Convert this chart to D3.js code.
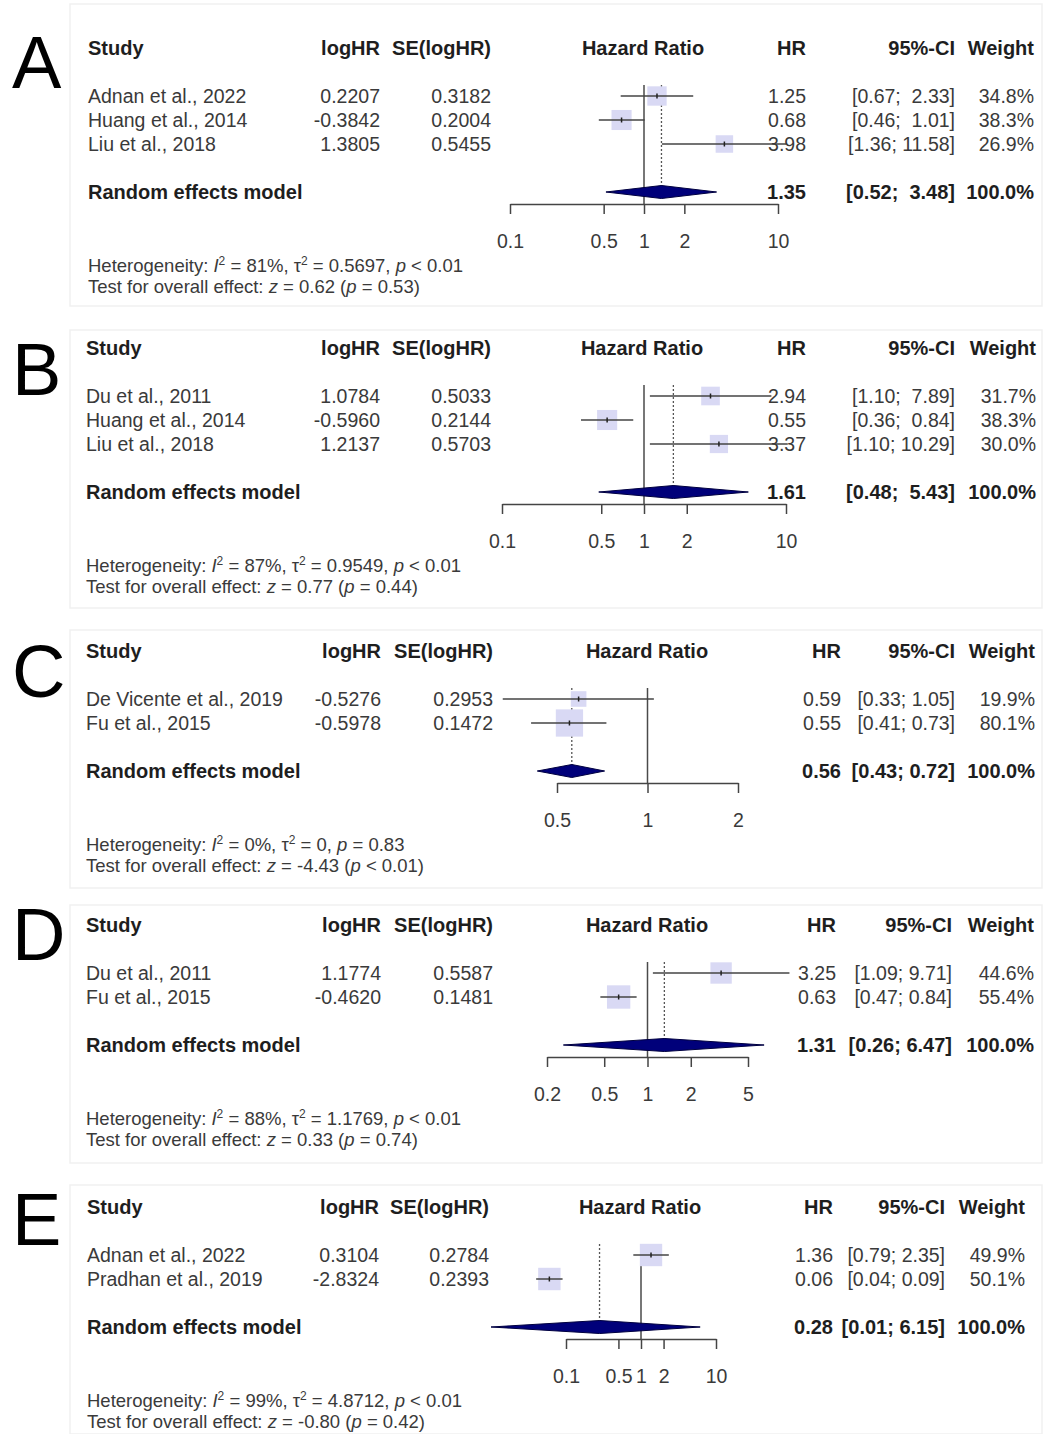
<!DOCTYPE html>
<html lang="en">
<head>
  <meta charset="UTF-8">
  <title>Forest plots A-E</title>
  <script src="https://d3js.org/d3.v7.min.js"></script>
  <style>
    body { margin: 0; background: #fff; }
    svg { display: block; font-family: "Liberation Sans", Arial, Helvetica, sans-serif; }
    text { white-space: pre; }
  </style>
</head>
<body>
  <script>
    // ---- data ----
    const panelLetters = ["A", "B", "C", "D", "E"];

    const studyNames = [
      ["Adnan et al., 2022", "Huang et al., 2014", "Liu et al., 2018"],
      ["Du et al., 2011", "Huang et al., 2014", "Liu et al., 2018"],
      ["De Vicente et al., 2019", "Fu et al., 2015"],
      ["Du et al., 2011", "Fu et al., 2015"],
      ["Adnan et al., 2022", "Pradhan et al., 2019"]
    ];
    const logHR = [
      [0.2207, -0.3842, 1.3805],
      [1.0784, -0.5960, 1.2137],
      [-0.5276, -0.5978],
      [1.1774, -0.4620],
      [0.3104, -2.8324]
    ];
    const seLogHR = [
      [0.3182, 0.2004, 0.5455],
      [0.5033, 0.2144, 0.5703],
      [0.2953, 0.1472],
      [0.5587, 0.1481],
      [0.2784, 0.2393]
    ];
    const hazardRatio = [
      [1.25, 0.68, 3.98],
      [2.94, 0.55, 3.37],
      [0.59, 0.55],
      [3.25, 0.63],
      [1.36, 0.06]
    ];
    const ciLower = [
      [0.67, 0.46, 1.36],
      [1.10, 0.36, 1.10],
      [0.33, 0.41],
      [1.09, 0.47],
      [0.79, 0.04]
    ];
    const ciUpper = [
      [2.33, 1.01, 11.58],
      [7.89, 0.84, 10.29],
      [1.05, 0.73],
      [9.71, 0.84],
      [2.35, 0.09]
    ];
    const weights = [
      [34.8, 38.3, 26.9],
      [31.7, 38.3, 30.0],
      [19.9, 80.1],
      [44.6, 55.4],
      [49.9, 50.1]
    ];
    const pooledHR = [1.35, 1.61, 0.56, 1.31, 0.28];
    const pooledLower = [0.52, 0.48, 0.43, 0.26, 0.01];
    const pooledUpper = [3.48, 5.43, 0.72, 6.47, 6.15];

    const hetI2 = ["81%", "87%", "0%", "88%", "99%"];
    const hetTau2 = ["0.5697", "0.9549", "0", "1.1769", "4.8712"];
    const hetP = ["< 0.01", "< 0.01", "= 0.83", "< 0.01", "< 0.01"];
    const overallZ = ["0.62", "0.77", "-4.43", "0.33", "-0.80"];
    const overallP = ["= 0.53", "= 0.44", "< 0.01", "= 0.74", "= 0.42"];

    const axisTicks = [
      [0.1, 0.5, 1, 2, 10],
      [0.1, 0.5, 1, 2, 10],
      [0.5, 1, 2],
      [0.2, 0.5, 1, 2, 5],
      [0.1, 0.5, 1, 2, 10]
    ];

    // ---- layout of each panel (pixels) ----
    const layout = [
      { top: 48,   letterY: 88,   box: [70, 4, 972, 302],   study: 88, logHR: 380, se: 491, hz: 643, hr: 806, ci: 955, w: 1034, x0: 510, x1: 778 },
      { top: 348,  letterY: 395,  box: [70, 330, 972, 278], study: 86, logHR: 380, se: 491, hz: 642, hr: 806, ci: 955, w: 1036, x0: 502, x1: 786 },
      { top: 651,  letterY: 697,  box: [70, 630, 972, 258], study: 86, logHR: 381, se: 493, hz: 647, hr: 841, ci: 955, w: 1035, x0: 557, x1: 738 },
      { top: 925,  letterY: 960,  box: [70, 905, 972, 258], study: 86, logHR: 381, se: 493, hz: 647, hr: 836, ci: 952, w: 1034, x0: 547, x1: 748 },
      { top: 1207, letterY: 1245, box: [70, 1185, 972, 249], study: 87, logHR: 379, se: 489, hz: 640, hr: 833, ci: 945, w: 1025, x0: 566, x1: 716 }
    ];

    const FS = 19.5;        // table font size
    const FS_BOLD = 20;     // bold table font size
    const FS_HET = 18.5;    // heterogeneity text size
    const TXT = "#3a3a3a";
    const BOLD = "#1e1e1e";

    const svg = d3.select("body").append("svg")
      .attr("width", 1043)
      .attr("height", 1434);

    svg.append("rect").attr("width", 1043).attr("height", 1434).attr("fill", "#fff");

    function label(g, x, y, str, anchor, bold) {
      return g.append("text")
        .attr("x", x)
        .attr("y", y)
        .attr("dy", "0.35em")
        .attr("text-anchor", anchor)
        .attr("font-size", bold ? FS_BOLD : FS)
        .attr("font-weight", bold ? "bold" : "normal")
        .attr("fill", bold ? BOLD : TXT)
        .text(str);
    }

    // text made of pieces: {t, it, sup}
    function richText(g, x, y, parts) {
      const t = g.append("text")
        .attr("x", x).attr("y", y).attr("dy", "0.35em")
        .attr("font-size", FS_HET).attr("fill", TXT);
      let raised = false;
      parts.forEach(p => {
        const s = t.append("tspan").text(p.t);
        if (p.it) s.attr("font-style", "italic");
        if (p.sup) {
          s.attr("font-size", 12).attr("dy", raised ? 0 : -7);
          raised = true;
        } else if (raised) {
          s.attr("dy", 7);
          raised = false;
        }
      });
    }

    function ciText(lo, hi, width) {
      return "[" + lo.toFixed(2) + "; " + hi.toFixed(2).padStart(width) + "]";
    }

    panelLetters.forEach((letter, i) => {
      const L = layout[i];
      const g = svg.append("g");

      // faint frame around the panel
      g.append("rect")
        .attr("x", L.box[0]).attr("y", L.box[1])
        .attr("width", L.box[2]).attr("height", L.box[3])
        .attr("fill", "none").attr("stroke", "#f1f1f1").attr("stroke-width", 1.5);

      g.append("text")
        .attr("x", 12).attr("y", L.letterY)
        .attr("font-size", 74).attr("fill", "#000")
        .text(letter);

      // headers
      label(g, L.study, L.top, "Study", "start", true);
      label(g, L.logHR, L.top, "logHR", "end", true);
      label(g, L.se, L.top, "SE(logHR)", "end", true);
      label(g, L.hz, L.top, "Hazard Ratio", "middle", true);
      label(g, L.hr, L.top, "HR", "end", true);
      label(g, L.ci, L.top, "95%-CI", "end", true);
      label(g, L.w, L.top, "Weight", "end", true);

      const n = studyNames[i].length;
      const rowY = d3.range(n).map(k => L.top + 48 + 24 * k);
      const poolY = rowY[n - 1] + 48;
      const axisY = poolY + 12;

      const x = d3.scaleLog()
        .domain(d3.extent(axisTicks[i]))
        .range([L.x0, L.x1]);

      const hiWidth = d3.max(ciUpper[i].concat([pooledUpper[i]]), v => v.toFixed(2).length);

      // reference line at HR = 1 and dotted pooled line
      g.append("line")
        .attr("x1", x(1)).attr("x2", x(1))
        .attr("y1", L.top + 37).attr("y2", axisY)
        .attr("stroke", "#4a4a4a").attr("stroke-width", 1.5);

      g.append("line")
        .attr("x1", x(pooledHR[i])).attr("x2", x(pooledHR[i]))
        .attr("y1", L.top + 37).attr("y2", poolY - 6)
        .attr("stroke", "#555").attr("stroke-width", 1.3)
        .attr("stroke-dasharray", "2,2");

      // study rows
      const rows = studyNames[i].map((name, k) => ({
        name, y: rowY[k], lhr: logHR[i][k], se: seLogHR[i][k],
        hr: hazardRatio[i][k], lo: ciLower[i][k], hi: ciUpper[i][k], w: weights[i][k]
      }));

      const sq = d => 26 * Math.sqrt(d.w / 100) + 4;

      g.selectAll(".sq").data(rows).enter().append("rect")
        .attr("x", d => x(d.hr) - sq(d) / 2)
        .attr("y", d => d.y - sq(d) / 2)
        .attr("width", sq).attr("height", sq)
        .attr("fill", "#d9d9f4");

      g.selectAll(".ci").data(rows).enter().append("line")
        .attr("x1", d => x(d.lo)).attr("x2", d => x(d.hi))
        .attr("y1", d => d.y).attr("y2", d => d.y)
        .attr("stroke", "#444").attr("stroke-width", 1.5);

      g.selectAll(".pt").data(rows).enter().append("line")
        .attr("x1", d => x(d.hr)).attr("x2", d => x(d.hr))
        .attr("y1", d => d.y - 2.5).attr("y2", d => d.y + 2.5)
        .attr("stroke", "#222").attr("stroke-width", 1.5);

      rows.forEach(d => {
        label(g, L.study, d.y, d.name, "start");
        label(g, L.logHR, d.y, d.lhr.toFixed(4), "end");
        label(g, L.se, d.y, d.se.toFixed(4), "end");
        label(g, L.hr, d.y, d.hr.toFixed(2), "end");
        label(g, L.ci, d.y, ciText(d.lo, d.hi, hiWidth), "end");
        label(g, L.w, d.y, d.w.toFixed(1) + "%", "end");
      });

      // pooled diamond
      const dh = 6.5;
      g.append("polygon")
        .attr("points", [
          [x(pooledLower[i]), poolY],
          [x(pooledHR[i]), poolY - dh],
          [x(pooledUpper[i]), poolY],
          [x(pooledHR[i]), poolY + dh]
        ].map(p => p.join(",")).join(" "))
        .attr("fill", "#00007a")
        .attr("stroke", "#000040").attr("stroke-width", 1);

      label(g, L.study, poolY, "Random effects model", "start", true);
      label(g, L.hr, poolY, pooledHR[i].toFixed(2), "end", true);
      label(g, L.ci, poolY, ciText(pooledLower[i], pooledUpper[i], hiWidth), "end", true);
      label(g, L.w, poolY, "100.0%", "end", true);

      // axis
      const ax = g.append("g")
        .attr("transform", `translate(0,${axisY})`)
        .call(d3.axisBottom(x)
          .tickValues(axisTicks[i])
          .tickFormat(d3.format("~g"))
          .tickSize(10)
          .tickSizeOuter(0)
          .tickPadding(20));
      ax.select(".domain").attr("stroke", "#444").attr("stroke-width", 1.5);
      ax.selectAll(".tick line").attr("stroke", "#444").attr("stroke-width", 1.5);
      ax.selectAll(".tick text")
        .attr("font-size", FS)
        .attr("font-family", "'Liberation Sans', Arial, sans-serif")
        .attr("fill", TXT);

      // heterogeneity lines
      richText(g, L.study, axisY + 62, [
        { t: "Heterogeneity: " }, { t: "I", it: true }, { t: "2", sup: true },
        { t: " = " + hetI2[i] + ", τ" }, { t: "2", sup: true },
        { t: " = " + hetTau2[i] + ", " }, { t: "p", it: true }, { t: " " + hetP[i] }
      ]);
      richText(g, L.study, axisY + 83, [
        { t: "Test for overall effect: " }, { t: "z", it: true },
        { t: " = " + overallZ[i] + " (" }, { t: "p", it: true }, { t: " " + overallP[i] + ")" }
      ]);
    });
  </script>
</body>
</html>
